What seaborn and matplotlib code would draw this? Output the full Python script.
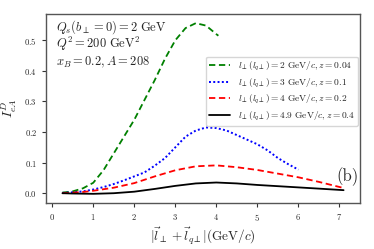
import pandas as pd
import matplotlib
matplotlib.use("Agg")
import matplotlib.pyplot as plt
import seaborn as sns

# ===== DATA =====
x_green = [0.25, 0.5, 0.75, 1.0, 1.25, 1.5, 1.75, 2.0, 2.25, 2.5, 2.75, 3.0, 3.25, 3.5, 3.75, 4.0, 4.05]
y_green = [0.002, 0.006, 0.016, 0.034, 0.075, 0.13, 0.185, 0.24, 0.305, 0.37, 0.44, 0.50, 0.54, 0.556, 0.548, 0.52, 0.515]

x_blue = [0.25, 0.5, 0.75, 1.0, 1.25, 1.5, 1.75, 2.0, 2.25, 2.5, 2.75, 3.0, 3.25, 3.5, 3.75,
          4.0, 4.25, 4.5, 4.75, 5.0, 5.25, 5.5, 5.75, 6.0]
y_blue = [0.001, 0.003, 0.006, 0.012, 0.02, 0.03, 0.042, 0.055, 0.068, 0.09, 0.115, 0.15, 0.185, 0.205, 0.215,
          0.213, 0.205, 0.19, 0.175, 0.16, 0.14, 0.115, 0.095, 0.077]

x_red = [0.25, 0.5, 0.75, 1.0, 1.5, 2.0, 2.5, 3.0, 3.5, 4.0, 4.5, 5.0, 5.5, 6.0, 6.5, 7.1]
y_red = [0.0, 0.002, 0.004, 0.008, 0.018, 0.033, 0.055, 0.075, 0.088, 0.091, 0.085, 0.076, 0.064, 0.052, 0.037, 0.017]

x_black = [0.25, 0.5, 1.0, 1.5, 2.0, 2.5, 3.0, 3.5, 4.0, 4.5, 5.0, 5.5, 6.0, 6.5, 7.1]
y_black = [0.0, -0.001, -0.002, 0.0, 0.005, 0.014, 0.024, 0.032, 0.035, 0.032, 0.027, 0.023, 0.019, 0.015, 0.010]

labels = [
    r"$l_\perp(l_{q\perp})=2\ \mathrm{GeV}/c, z=0.04$",
    r"$l_\perp(l_{q\perp})=3\ \mathrm{GeV}/c, z=0.1$",
    r"$l_\perp(l_{q\perp})=4\ \mathrm{GeV}/c, z=0.2$",
    r"$l_\perp(l_{q\perp})=4.9\ \mathrm{GeV}/c, z=0.4$",
]

# ===== STYLE =====
sns.set_style("ticks")
plt.rcParams["font.family"] = "serif"
plt.rcParams["font.serif"] = ["cmr10", "DejaVu Serif"]
plt.rcParams["mathtext.fontset"] = "cm"
plt.rcParams["axes.formatter.use_mathtext"] = True
plt.rcParams["axes.unicode_minus"] = False

fig = plt.figure(figsize=(3.74, 2.49), dpi=100)
ax = fig.add_axes([46 / 374, 46 / 249, 314 / 374, 189 / 249])

series = [
    (x_green, y_green, "green", (0, (3.5, 2.0)), 1.3),
    (x_blue, y_blue, "blue", (0, (1.0, 1.2)), 1.4),
    (x_red, y_red, "red", (0, (3.5, 2.0)), 1.3),
    (x_black, y_black, "black", "-", 1.3),
]
for (xs, ys, col, ls, lw), lab in zip(series, labels):
    df = pd.DataFrame({"x": xs, "y": ys})
    sns.lineplot(data=df, x="x", y="y", color=col, linestyle=ls, linewidth=lw, label=lab, ax=ax)

ax.set_xlim(-0.15, 7.5)
ax.set_ylim(-0.032, 0.586)
ax.set_xticks(range(0, 8))
ax.set_yticks([0.0, 0.1, 0.2, 0.3, 0.4, 0.5])
ax.tick_params(labelsize=6.2, length=3, width=0.8, color="#333333")
for s in ax.spines.values():
    s.set_color("#555555")
    s.set_linewidth(1.0)

ax.set_xlabel(r"$|\vec{l}_\perp+\vec{l}_{q\perp}|(\mathrm{GeV}/c)$", fontsize=9.5, labelpad=2)
ax.set_ylabel(r"$I^{D}_{eA}$", fontsize=10, labelpad=4)

ax.text(0.032, 0.93, r"$Q_s(b_\perp=0)=2\ \mathrm{GeV}$", transform=ax.transAxes, fontsize=9, va="center")
ax.text(0.032, 0.84, r"$Q^2=200\ \mathrm{GeV}^2$", transform=ax.transAxes, fontsize=9, va="center")
ax.text(0.032, 0.745, r"$x_B=0.2, A=208$", transform=ax.transAxes, fontsize=9, va="center")
ax.text(0.995, 0.14, "(b)", transform=ax.transAxes, fontsize=12, ha="right", va="center")

ax.legend(loc="upper right", bbox_to_anchor=(0.993, 0.775), borderaxespad=0, fontsize=6.8,
          handlelength=2.2, handletextpad=0.8, labelspacing=0.35, frameon=True,
          framealpha=0.8, edgecolor="#cccccc", fancybox=True, borderpad=0.35)

fig.savefig("out.png", dpi=100)
